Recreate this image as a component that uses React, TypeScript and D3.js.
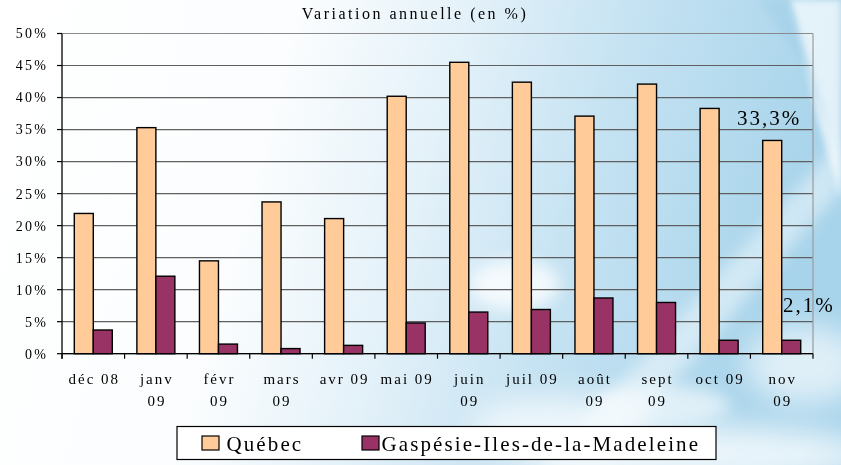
import React from "react";
import * as d3 from "d3";

const categories = ["déc 08", "janv 09", "févr 09", "mars 09", "avr 09", "mai 09", "juin 09", "juil 09", "août 09", "sept 09", "oct 09", "nov 09"];
const categoryLines = [["déc 08"], ["janv", "09"], ["févr", "09"], ["mars", "09"], ["avr 09"], ["mai 09"], ["juin", "09"], ["juil 09"], ["août", "09"], ["sept", "09"], ["oct 09"], ["nov", "09"]];
const quebec = [21.9, 35.3, 14.5, 23.7, 21.1, 40.2, 45.5, 42.4, 37.1, 42.1, 38.3, 33.3];
const gaspesie = [3.7, 12.1, 1.5, 0.8, 1.3, 4.8, 6.5, 6.9, 8.7, 8.0, 2.1, 2.1];
const seriesNames = ["Québec", "Gaspésie-Iles-de-la-Madeleine"];
const seriesColors = ["#FFCC99", "#993366"];
const yTicks = [0, 5, 10, 15, 20, 25, 30, 35, 40, 45, 50];
const title = "Variation annuelle (en %)";
const annotations = [
  { text: "33,3%", value: 33.3, series: 0 },
  { text: "2,1%", value: 2.1, series: 1 },
];

const W = 841;
const H = 465;
const FONT = "'Liberation Serif', 'Times New Roman', serif";

export default function App() {
  const x0 = 62, x1 = 813, yTop = 33.5, yBot = 353.7;
  const x = d3.scaleBand<string>().domain(categories).range([x0, x1]).paddingInner(0).paddingOuter(0);
  const xs = d3.scaleBand<number>().domain([0, 1]).range([0, x.bandwidth()]).paddingInner(0).paddingOuter(0.647);
  const y = d3.scaleLinear().domain([0, 50]).range([yBot, yTop]);
  const series = [quebec, gaspesie];
  const boundaries = categories.map((c) => x(c) as number).concat([x1]);

  return (
    <svg width={W} height={H} style={{ position: "absolute", left: 0, top: 0, display: "block" }}>
      <defs>
        <linearGradient id="bg" x1="0" y1="0" x2="1" y2="0.15">
          <stop offset="0" stopColor="#ffffff" />
          <stop offset="0.35" stopColor="#fbfdfe" />
          <stop offset="0.55" stopColor="#e3f1f9" />
          <stop offset="0.75" stopColor="#c4e2f2" />
          <stop offset="1" stopColor="#a8d4eb" />
        </linearGradient>
        <filter id="blur8" x="-50%" y="-50%" width="200%" height="200%">
          <feGaussianBlur stdDeviation="8" />
        </filter>
        <filter id="blur3" x="-50%" y="-50%" width="200%" height="200%">
          <feGaussianBlur stdDeviation="3" />
        </filter>
        <filter id="blur15" x="-50%" y="-50%" width="200%" height="200%">
          <feGaussianBlur stdDeviation="15" />
        </filter>
      </defs>
      <rect x={0} y={0} width={W} height={H} fill="url(#bg)" />
      {/* decorative sky: clouds and light streaks */}
      <g opacity={0.9}>
        <polygon points="545,465 600,465 841,190 841,140" fill="#ffffff" opacity={0.5} filter="url(#blur8)" />
        <polygon points="790,0 841,0 841,200 818,120" fill="#ffffff" opacity={0.75} filter="url(#blur3)" />
        <polygon points="760,0 790,0 830,130 800,60" fill="#9fcde6" opacity={0.5} filter="url(#blur3)" />
        <ellipse cx={700} cy={455} rx={170} ry={30} fill="#ffffff" opacity={0.85} filter="url(#blur15)" />
        <ellipse cx={560} cy={430} rx={90} ry={35} fill="#ffffff" opacity={0.75} filter="url(#blur15)" />
        <ellipse cx={805} cy={365} rx={60} ry={40} fill="#ffffff" opacity={0.7} filter="url(#blur15)" />
        <ellipse cx={515} cy={285} rx={45} ry={25} fill="#ffffff" opacity={0.85} filter="url(#blur8)" />
        <ellipse cx={660} cy={405} rx={70} ry={20} fill="#ffffff" opacity={0.65} filter="url(#blur8)" />
      </g>

      {/* title */}
      <text x={415} y={19} textAnchor="middle" fontFamily={FONT} fontSize={16} letterSpacing={2.5} fill="#000">
        {title}
      </text>

      {/* gridlines */}
      {yTicks.map((t) => (
        <line key={"g" + t} x1={x0} x2={x1} y1={y(t)} y2={y(t)} stroke={t === 50 ? "#8a8a8a" : "#5f5f5f"} strokeWidth={1.2} />
      ))}
      <line x1={x1} x2={x1} y1={yTop} y2={yBot} stroke="#9a9a9a" strokeWidth={1.2} />

      {/* bars */}
      {series.map((vals, si) =>
        vals.map((v, i) => (
          <rect
            key={si + "-" + i}
            x={(x(categories[i]) as number) + (xs(si) as number)}
            y={y(v)}
            width={xs.bandwidth()}
            height={y(0) - y(v)}
            fill={seriesColors[si]}
            stroke="#000"
            strokeWidth={1.4}
          />
        ))
      )}

      {/* axes */}
      <line x1={x0} x2={x0} y1={yTop} y2={yBot + 5} stroke="#000" strokeWidth={1.3} />
      <line x1={x0} x2={x1} y1={yBot} y2={yBot} stroke="#000" strokeWidth={1.3} />
      {yTicks.map((t) => (
        <line key={"yt" + t} x1={x0 - 5} x2={x0} y1={y(t)} y2={y(t)} stroke="#000" strokeWidth={1.2} />
      ))}
      {boundaries.map((b, i) => (
        <line key={"xt" + i} x1={b} x2={b} y1={yBot} y2={yBot + 5} stroke="#000" strokeWidth={1.2} />
      ))}
      {yTicks.map((t) => (
        <text key={"yl" + t} x={48} y={y(t)} dy="0.35em" textAnchor="end" fontFamily={FONT} fontSize={14} letterSpacing={2.2} fill="#000">
          {t + "%"}
        </text>
      ))}
      {categoryLines.map((lines, i) => (
        <text key={"xl" + i} textAnchor="middle" fontFamily={FONT} fontSize={15} letterSpacing={2} fill="#000">
          {lines.map((ln, j) => (
            <tspan key={j} x={(x(categories[i]) as number) + x.bandwidth() / 2 + 1} y={384 + j * 22}>
              {ln}
            </tspan>
          ))}
        </text>
      ))}

      {/* annotations */}
      <text x={737} y={125} fontFamily={FONT} fontSize={21} letterSpacing={2} fill="#000">
        {annotations[0].text}
      </text>
      <text x={783} y={311.5} fontFamily={FONT} fontSize={21} letterSpacing={2} fill="#000">
        {annotations[1].text}
      </text>

      {/* legend */}
      <rect x={177} y={426.5} width={539} height={33} fill="#ffffff" stroke="#000" strokeWidth={1.2} />
      {seriesNames.map((n, i) => {
        const sx = i === 0 ? 202 : 362;
        return (
          <g key={n}>
            <rect x={sx} y={436} width={17} height={14} fill={seriesColors[i]} stroke="#000" strokeWidth={1.2} />
            <text x={sx + (i === 0 ? 24.5 : 19.5)} y={450.5} fontFamily={FONT} fontSize={21} letterSpacing={2.1} fill="#000">
              {n}
            </text>
          </g>
        );
      })}
    </svg>
  );
}
